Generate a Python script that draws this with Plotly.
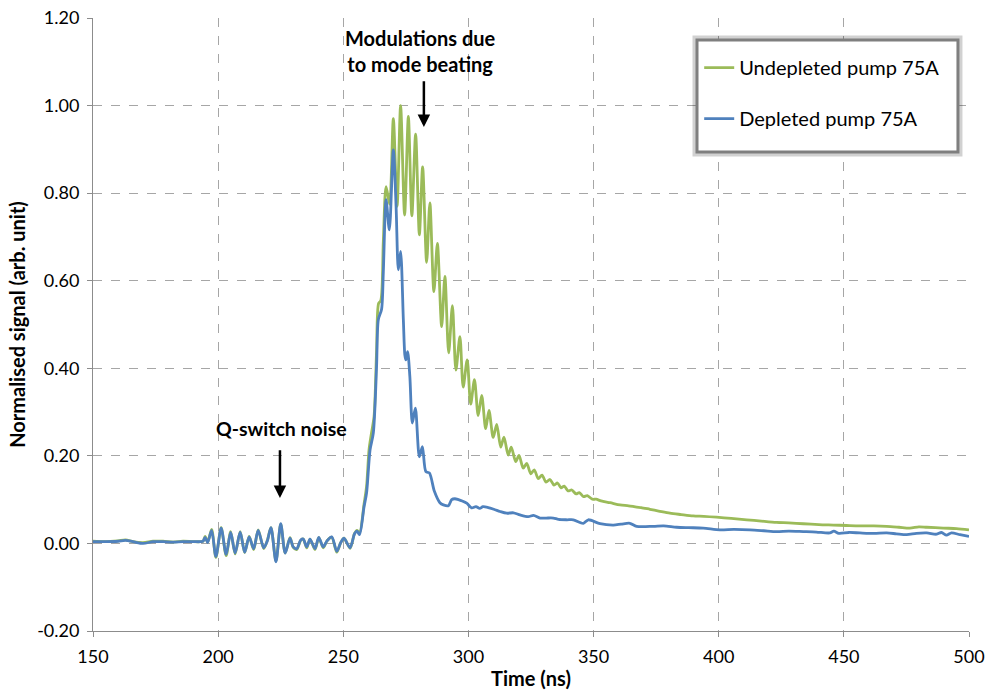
import plotly.graph_objects as go

# ---------------- data ----------------
noise_t = [194.0, 194.8, 195.8, 197.4, 199.1, 201.2, 203.2, 205.0, 206.8, 208.8, 210.6, 212.4,
           214.2, 216.0, 218.2, 219.6, 221.1, 223.1, 225.0, 226.8, 228.7, 230.0, 231.4, 233.0,
           234.0, 235.4, 236.7, 238.7, 240.2, 242.0, 243.5, 245.4, 247.4, 249.0, 250.3, 252.7,
           254.5, 255.5, 256.5]

pre_t = [150, 155, 160, 163, 166, 170, 174, 178, 182, 186, 190, 193]

undepleted_pre = [0.005, 0.004, 0.006, 0.008, 0.004, 0.002, 0.005, 0.005, 0.003, 0.005, 0.004, 0.004]
undepleted_noise = [0.005, 0.016, 0.003, 0.032, -0.032, 0.036, -0.028, 0.027, -0.024, 0.027, -0.021, 0.016,
                    -0.014, 0.031, -0.012, 0.006, 0.036, -0.040, 0.044, -0.022, 0.013, -0.009, -0.014, 0.007,
                    0.010, -0.010, 0.010, -0.014, 0.013, -0.010, 0.006, 0.014, -0.020, 0.002, 0.012, -0.011,
                    0.023, 0.030, 0.024]
undepleted_main_t = [258.3, 259.3, 260.3, 261.2, 262.3, 263.3, 264.1, 265.0, 266.0, 267.1, 268.5, 270.0,
                     271.5, 272.9, 274.5, 276.0, 277.4, 278.9, 280.4, 281.7, 283.3, 284.6, 286.2, 287.6,
                     289.3, 290.6, 292.1, 293.6, 295.0, 296.6, 297.9, 299.5, 300.9, 302.4, 303.9, 305.3,
                     306.9, 308.2, 309.9, 311.3, 312.9, 314.2, 315.9, 317.1, 318.9, 320.2, 321.9, 323.3,
                     324.9, 326.3, 327.9, 329.4, 331.0, 332.6, 334.2, 335.6, 337.0, 338.3, 339.8, 341.3,
                     343.0, 344.3, 346.0, 347.5, 349.5, 351.0, 353.0, 356.6, 360.6, 364.0, 367.2, 369.0,
                     372.5, 376.0, 380.5, 385.0, 389.8, 394.0, 399.1, 405.0, 411.2, 417.0, 423.1, 428.0,
                     433.8, 440.0, 445.8, 451.0, 456.4, 462.0, 467.1, 472.0, 476.4, 480.0, 483.1, 489.7,
                     495.0, 500.0]
undepleted_main = [0.090, 0.130, 0.215, 0.250, 0.290, 0.440, 0.548, 0.555, 0.690, 0.815, 0.775, 0.970,
                   0.770, 1.000, 0.750, 0.975, 0.748, 0.935, 0.705, 0.860, 0.642, 0.778, 0.575, 0.685,
                   0.495, 0.610, 0.435, 0.543, 0.396, 0.472, 0.357, 0.419, 0.318, 0.374, 0.292, 0.338,
                   0.262, 0.304, 0.242, 0.272, 0.220, 0.243, 0.202, 0.220, 0.187, 0.201, 0.172, 0.183,
                   0.159, 0.168, 0.148, 0.156, 0.140, 0.146, 0.133, 0.138, 0.127, 0.131, 0.120, 0.122,
                   0.113, 0.116, 0.107, 0.109, 0.101, 0.101, 0.097, 0.093, 0.088, 0.086, 0.083, 0.082,
                   0.078, 0.074, 0.069, 0.066, 0.063, 0.062, 0.060, 0.057, 0.054, 0.051, 0.048, 0.047,
                   0.045, 0.043, 0.042, 0.041, 0.040, 0.040, 0.039, 0.037, 0.035, 0.038, 0.037, 0.035,
                   0.034, 0.031]

depleted_pre = [0.004, 0.004, 0.005, 0.007, 0.004, 0.000, 0.004, 0.004, 0.003, 0.004, 0.004, 0.004]
depleted_noise = [0.005, 0.014, 0.002, 0.030, -0.030, 0.035, -0.025, 0.025, -0.022, 0.026, -0.020, 0.015,
                  -0.012, 0.030, -0.010, 0.005, 0.036, -0.042, 0.045, -0.022, 0.012, -0.008, -0.012, 0.008,
                  0.010, -0.008, 0.010, -0.012, 0.014, -0.008, 0.006, 0.015, -0.018, 0.002, 0.012, -0.010,
                  0.022, 0.028, 0.020]
depleted_main_t = [258.3, 259.3, 260.7, 262.0, 263.3, 264.0, 265.3, 266.0, 267.1, 268.4, 270.0, 271.1,
                   272.0, 272.9, 274.0, 274.6, 275.0, 275.7, 276.6, 277.6, 278.8, 280.4, 281.6, 283.0,
                   284.4, 286.4, 288.6, 290.0, 292.0, 293.3, 294.6, 296.0, 297.5, 299.3, 301.3, 303.0,
                   304.5, 305.8, 307.9, 310.6, 312.6, 315.3, 318.0, 320.6, 323.9, 326.0, 328.6, 331.0,
                   333.9, 336.0, 339.3, 341.9, 345.9, 347.9, 352.6, 357.9, 361.0, 364.5, 367.2, 373.9,
                   378.0, 383.2, 388.0, 393.8, 400.5, 406.0, 412.5, 418.0, 423.1, 428.0, 433.8, 439.0,
                   444.4, 446.0, 448.0, 452.0, 456.4, 462.0, 467.1, 471.0, 475.1, 479.0, 483.1, 487.0,
                   489.0, 491.0, 493.0, 496.4, 500.0]
depleted_main = [0.084, 0.115, 0.214, 0.252, 0.404, 0.511, 0.535, 0.620, 0.785, 0.716, 0.899, 0.769,
                 0.625, 0.667, 0.511, 0.430, 0.419, 0.438, 0.381, 0.275, 0.309, 0.198, 0.221, 0.164,
                 0.161, 0.119, 0.093, 0.088, 0.086, 0.100, 0.102, 0.100, 0.097, 0.092, 0.081, 0.084,
                 0.080, 0.084, 0.082, 0.077, 0.073, 0.069, 0.070, 0.065, 0.061, 0.064, 0.058, 0.058,
                 0.058, 0.055, 0.054, 0.054, 0.046, 0.054, 0.045, 0.042, 0.044, 0.046, 0.039, 0.039,
                 0.040, 0.037, 0.036, 0.035, 0.031, 0.032, 0.031, 0.029, 0.027, 0.028, 0.027, 0.026,
                 0.024, 0.028, 0.023, 0.025, 0.024, 0.023, 0.024, 0.022, 0.020, 0.023, 0.024, 0.021,
                 0.025, 0.019, 0.024, 0.020, 0.016]

x_ticks = [150, 200, 250, 300, 350, 400, 450, 500]
y_ticks = [-0.20, 0.00, 0.20, 0.40, 0.60, 0.80, 1.00, 1.20]

series_names = ["Undepleted pump 75A", "Depleted pump 75A"]
annot_modes = "Modulations due<br>to mode beating"
annot_qs = "Q-switch noise"

# ---------------- build ----------------
green_t = pre_t + noise_t + undepleted_main_t
green_y = undepleted_pre + undepleted_noise + undepleted_main
blue_t = pre_t + noise_t + depleted_main_t
blue_y = depleted_pre + depleted_noise + depleted_main

FONT = "Lato"
fig = go.Figure()
fig.add_trace(go.Scatter(x=green_t, y=green_y, mode="lines", name=series_names[0],
                         line=dict(color="#9BBB59", width=2.8, shape="spline", smoothing=0.8),
                         legendgroup="g1"))
fig.add_trace(go.Scatter(x=blue_t, y=blue_y, mode="lines", name=series_names[1],
                         line=dict(color="#4F81BD", width=2.8, shape="spline", smoothing=0.8),
                         legendgroup="g2"))

axis_common = dict(showgrid=True, gridcolor="#A6A6A6", griddash="dash", gridwidth=1,
                   showline=True, linecolor="#8C8C8C", linewidth=1, ticks="outside",
                   ticklen=5, tickcolor="#8C8C8C", zeroline=False, automargin=False,
                   ticklabelstandoff=4,
                   tickfont=dict(family=FONT, size=18, color="#000000"))

fig.update_xaxes(range=[150, 500], tickvals=x_ticks, ticktext=[str(v) for v in x_ticks],
                 title=dict(text="<b>Time (ns)</b>", font=dict(family=FONT, size=20, color="#000"),
                            standoff=6), **axis_common)
fig.update_yaxes(range=[-0.20, 1.20], tickvals=y_ticks, ticktext=[f"{v:.2f}" for v in y_ticks],
                 title=dict(text="<b>Normalised signal (arb. unit)</b>",
                            font=dict(family=FONT, size=20, color="#000"), standoff=6),
                 **axis_common)

fig.add_annotation(x=282.2, y=0.951, ax=282.2, ay=1.059, xref="x", yref="y", axref="x", ayref="y",
                   showarrow=True, arrowhead=2, arrowsize=1, arrowwidth=2.5, arrowcolor="#000", text="")
fig.add_annotation(x=281.0, y=1.125, xref="x", yref="y", text="<b>" + annot_modes + "</b>",
                   showarrow=False, font=dict(family=FONT, size=20, color="#000"), align="center")
fig.add_annotation(x=224.7, y=0.104, ax=224.7, ay=0.216, xref="x", yref="y", axref="x", ayref="y",
                   showarrow=True, arrowhead=2, arrowsize=1, arrowwidth=2.5, arrowcolor="#000", text="")
fig.add_annotation(x=225.3, y=0.262, xref="x", yref="y", text="<b>" + annot_qs + "</b>",
                   showarrow=False, font=dict(family=FONT, size=19.5, color="#000"))

# legend frame with soft shadow
box = dict(x0=0.6895, x1=0.9874, y0=0.7814, y1=0.9641)
fig.add_shape(type="rect", xref="paper", yref="paper", **box,
              line=dict(color="rgba(0,0,0,0.18)", width=9), fillcolor="white", layer="above")
fig.add_shape(type="rect", xref="paper", yref="paper", **box,
              line=dict(color="#7F7F7F", width=3), fillcolor="white", layer="above")

fig.update_layout(
    width=988, height=690,
    margin=dict(l=93, r=19, t=18, b=59),
    paper_bgcolor="white", plot_bgcolor="white",
    font=dict(family=FONT, size=16, color="#000"),
    showlegend=True,
    legend=dict(x=0.692, y=0.951, xanchor="left", yanchor="top",
                bgcolor="rgba(0,0,0,0)", borderwidth=0,
                font=dict(family=FONT, size=20, color="#000"),
                tracegroupgap=22, itemwidth=30),
)

fig.write_html("out.html")
